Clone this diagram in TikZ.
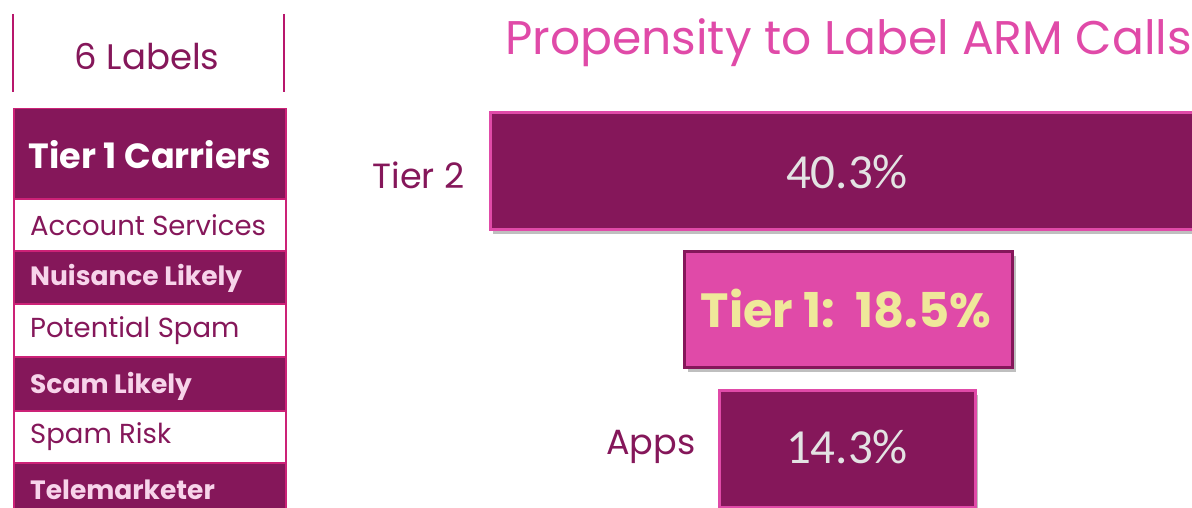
\documentclass[tikz,border=0pt]{standalone}
\usepackage{fontspec}
\setmainfont{Poppins}
\newfontfamily\numfont{Carlito}
\usetikzlibrary{shadows}
\definecolor{plum}{HTML}{85175A}
\definecolor{rosepink}{HTML}{E04AA8}
\definecolor{rowline}{HTML}{CC2277}
\definecolor{headline}{HTML}{B8176C}
\definecolor{palepink}{HTML}{F7D4EA}
\definecolor{paleyellow}{HTML}{EFE89A}
\definecolor{lightgrey}{HTML}{E3E3E3}
\tikzset{
  darkrow/.style={draw=rowline, line width=1.5pt, fill=plum, minimum width=272pt, anchor=north west, inner sep=0pt},
  lightrow/.style={draw=rowline, line width=1.5pt, fill=white, minimum width=272pt, anchor=north west, inner sep=0pt},
  rowtext/.style={anchor=west, inner sep=0pt, text=plum, font=\fontsize{27.5}{32}\selectfont},
  boldrowtext/.style={anchor=west, inner sep=0pt, text=palepink, font=\bfseries\fontsize{26.5}{32}\selectfont},
  darkbar/.style={draw=rosepink, line width=3pt, fill=plum, anchor=north west, inner sep=0pt,
    drop shadow={shadow xshift=2pt, shadow yshift=-4pt, fill=black, opacity=0.25}},
  pinkbar/.style={draw=plum, line width=3pt, fill=rosepink, anchor=north west, inner sep=0pt,
    drop shadow={shadow xshift=3pt, shadow yshift=-4pt, fill=black, opacity=0.25}},
  pct/.style={text=lightgrey, font=\numfont\fontsize{49}{54}\selectfont},
  sidelabel/.style={text=plum, anchor=east, font=\fontsize{35}{40}\selectfont},
}
\begin{document}
\begin{tikzpicture}[x=1pt, y=-1pt]
\useasboundingbox (0,0) rectangle (1192,508);

% header of the label list
\coordinate (hl1) at (13,14); \coordinate (hl2) at (13,92);
\coordinate (hr1) at (284,14); \coordinate (hr2) at (284,92);
\draw[headline, line width=2pt] (hl1) -- (hl2);
\draw[headline, line width=2pt] (hr1) -- (hr2);
\node[text=plum, font=\fontsize{35.5}{40}\selectfont] (head) at (147,57) {6 Labels};

% table of labels
\node[darkrow, minimum height=90pt] (r0) at (13,108) {};
\node[text=white, font=\bfseries\fontsize{35}{40}\selectfont] (t0) at (150,155) {Tier 1 Carriers};
\node[lightrow, minimum height=52pt] (r1) at (13,198) {};
\node[rowtext] (t1) at (30,225) {Account Services};
\node[darkrow, minimum height=53pt] (r2) at (13,250) {};
\node[boldrowtext] (t2) at (30,278) {Nuisance Likely};
\node[lightrow, minimum height=53pt] (r3) at (13,303) {};
\node[rowtext] (t3) at (30,331) {Potential Spam};
\node[darkrow, minimum height=54pt] (r4) at (13,356) {};
\node[boldrowtext] (t4) at (30,386) {Scam Likely};
\node[lightrow, minimum height=52pt] (r5) at (13,410) {};
\node[rowtext] (t5) at (30,437) {Spam Risk};
\node[darkrow, minimum height=60pt] (r6) at (13,462) {};
\node[boldrowtext] (t6) at (30,490) {Telemarketer};

% title
\node[text=rosepink, anchor=west, inner sep=0pt, font=\fontsize{47.2}{54}\selectfont] (title) at (505,43) {Propensity to Label ARM Calls};

% bars
\node[darkbar, minimum width=740pt, minimum height=117pt] (b2) at (489,111) {};
\node[pct] (p2) at (847,172) {40.3\%};
\node[sidelabel] (l2) at (468,175) {Tier 2};

\node[pinkbar, minimum width=328pt, minimum height=116pt] (b1) at (683,250) {};
\node[text=paleyellow, font=\bfseries\fontsize{48}{54}\selectfont] (p1) at (846,309) {Tier 1:\ \ 18.5\%};

\node[darkbar, minimum width=256pt, minimum height=117pt] (b3) at (718,389) {};
\node[pct] (p3) at (847,447) {14.3\%};
\node[sidelabel] (l3) at (699,447) {Apps};
\end{tikzpicture}
\end{document}
